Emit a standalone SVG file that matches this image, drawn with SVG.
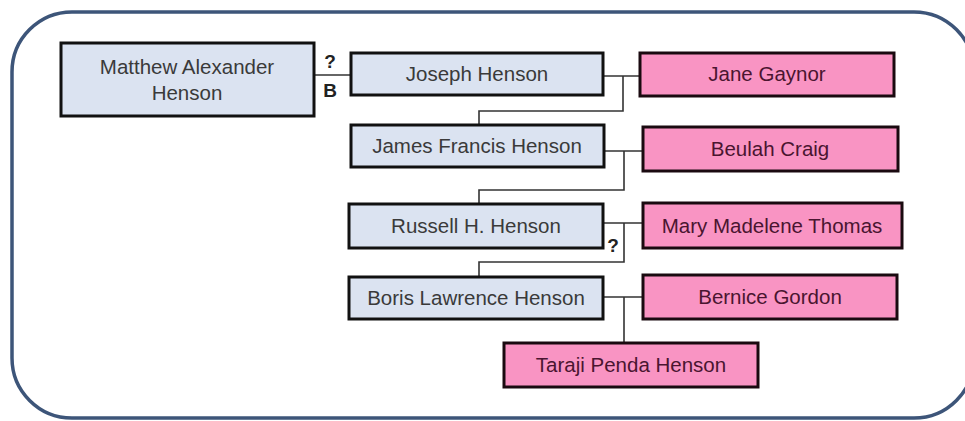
<svg xmlns="http://www.w3.org/2000/svg" width="965" height="421" viewBox="0 0 965 421">
<style>
.frame{fill:#ffffff;stroke:#3d5579;stroke-width:3.5}
.m{fill:#dbe3f1;stroke:#111;stroke-width:3}
.f{fill:#f994c3;stroke:#1a0a10;stroke-width:3}
.tm{font-family:"Liberation Sans",Arial,sans-serif;font-size:20.5px;fill:#3a3a3a;text-anchor:middle}
.tf{font-family:"Liberation Sans",Arial,sans-serif;font-size:20.5px;fill:#4a1530;text-anchor:middle}
.lbl{font-family:"Liberation Sans",Arial,sans-serif;font-size:19px;font-weight:bold;fill:#222;text-anchor:middle}
.c{fill:none;stroke:#333;stroke-width:1.6}
</style>
<rect width="965" height="421" fill="#ffffff"/>
<rect class="frame" x="12" y="12" width="962" height="406" rx="60" ry="60"/>
<g id="connectors">
<path class="c" d="M313,75 H351"/>
<path class="c" d="M603,76 H640 M623,76 V111 H479 V125"/>
<path class="c" d="M604,151 H643 M624,151 V190 H479 V204"/>
<path class="c" d="M603,223 H643 M624,223 V262 H479 V277"/>
<path class="c" d="M603,297 H643 M624,297 V343"/>
<text class="lbl" x="330" y="68">?</text>
<text class="lbl" x="330" y="97">B</text>
<text class="lbl" x="613" y="252">?</text>
</g>
<g id="matthew"><rect class="m" x="61" y="43" width="253" height="73"/><text class="tm" x="187" y="74">Matthew Alexander</text><text class="tm" x="187" y="100">Henson</text></g>
<g id="joseph"><rect class="m" x="351" y="53" width="252" height="42"/><text class="tm" x="477" y="81">Joseph Henson</text></g>
<g id="jane"><rect class="f" x="640" y="53" width="254" height="43"/><text class="tf" x="767" y="81">Jane Gaynor</text></g>
<g id="james"><rect class="m" x="351" y="125" width="253" height="42"/><text class="tm" x="477" y="153">James Francis Henson</text></g>
<g id="beulah"><rect class="f" x="643" y="127" width="255" height="44"/><text class="tf" x="770" y="156">Beulah Craig</text></g>
<g id="russell"><rect class="m" x="349" y="204" width="254" height="44"/><text class="tm" x="476" y="233">Russell H. Henson</text></g>
<g id="mary"><rect class="f" x="643" y="203" width="259" height="45"/><text class="tf" x="772" y="233">Mary Madelene Thomas</text></g>
<g id="boris"><rect class="m" x="349" y="277" width="254" height="42"/><text class="tm" x="476" y="305">Boris Lawrence Henson</text></g>
<g id="bernice"><rect class="f" x="643" y="275" width="254" height="44"/><text class="tf" x="770" y="304">Bernice Gordon</text></g>
<g id="taraji"><rect class="f" x="504" y="343" width="254" height="44"/><text class="tf" x="631" y="372">Taraji Penda Henson</text></g>
</svg>
